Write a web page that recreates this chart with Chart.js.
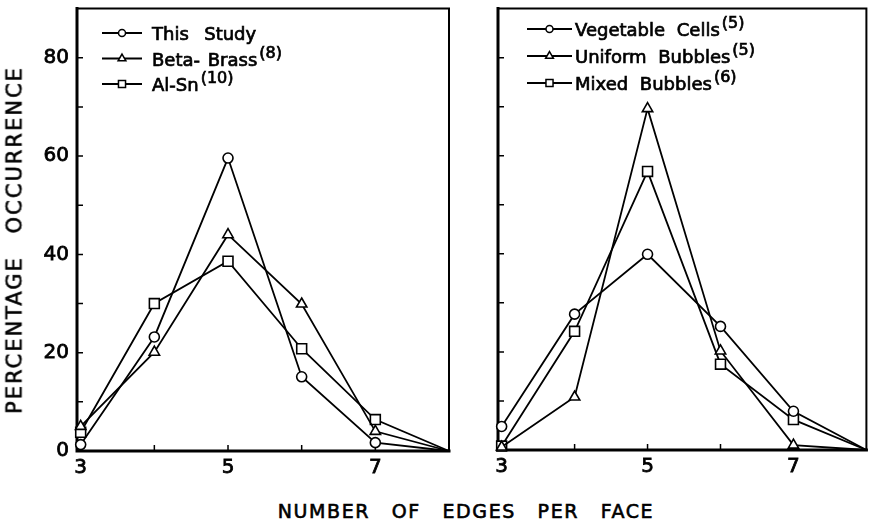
<!DOCTYPE html>
<html>
<head>
<meta charset="utf-8">
<script src="https://cdn.jsdelivr.net/npm/chart.js@4.4.1/dist/chart.umd.min.js"></script>
<style>
  html, body { margin: 0; padding: 0; background: #fff; }
  body { width: 875px; height: 525px; position: relative; overflow: hidden;
         font-family: 'DejaVu Sans', sans-serif; color: #000; }
  canvas { position: absolute; top: 0; }
  #left { left: 0; }
  #right { left: 460px; }
  .title { position: absolute; white-space: nowrap; -webkit-text-stroke: 0.6px #000; }
  #xTitle { left: 466px; top: 502px; font-size: 19px; line-height: 19px;
            letter-spacing: 1.6px; word-spacing: 14px; transform: translateX(-50%); }
  #yTitle { left: 15px; top: 240px; font-size: 21px; line-height: 21px;
            letter-spacing: 2px; word-spacing: 14px;
            transform: translate(-50%, -50%) rotate(-90deg); }
</style>
</head>
<body>
<canvas id="left" width="460" height="490"></canvas>
<canvas id="right" width="415" height="490"></canvas>
<div class="title" id="yTitle">PERCENTAGE OCCURRENCE</div>
<div class="title" id="xTitle">NUMBER OF EDGES PER FACE</div>
<script>
// Number of edges per face (x) and percentage occurrence of each count.
const EDGES = [3, 4, 5, 6, 7, 8];

const THIS_STUDY      = [1.3, 23.2, 59.6, 15.1, 1.7, 0];
const BETA_BRASS      = [5.0, 20.1, 44.0, 29.9, 4.0, 0];
const AL_SN           = [3.8, 30.0, 38.6, 20.8, 6.4, 0];

const VEGETABLE_CELLS = [4.8, 27.7, 39.9, 25.2, 7.9, 0];
const UNIFORM_BUBBLES = [0.6, 10.8, 69.6, 20.2, 1.0, 0];
const MIXED_BUBBLES   = [0.8, 24.2, 56.8, 17.5, 6.2, 0];

const Y_LABELS = [0, 20, 40, 60, 80];              // labelled y ticks (left panel)
const Y_MARKS  = [10, 20, 30, 40, 50, 60, 70, 80]; // inward tick marks
const X_LABELS = [3, 5, 7];                        // labelled x ticks
const X_MARKS  = [4, 5, 6, 7];                     // inward tick marks

const FONT = "'DejaVu Sans', sans-serif";

// Open markers on straight black lines; the closing point at 8 has no marker.
function series(label, ref, values, style, radius, keyRadius) {
  return {
    label, ref, keyRadius,
    data: EDGES.map((e, i) => ({ x: e, y: values[i] })),
    borderColor: '#000',
    borderWidth: 1.8,
    tension: 0,
    pointStyle: style,
    pointRadius: c => (c.dataIndex === EDGES.length - 1 ? 0 : radius),
    pointBorderWidth: 1.6,
    pointBorderColor: '#000',
    pointBackgroundColor: '#fff',
    clip: false
  };
}

// Box round the plot: heavy left/bottom axes, lighter top/right, inward ticks.
const framePlugin = {
  id: 'frame',
  beforeDatasetsDraw(chart) {
    const { ctx, chartArea: a, scales: { x, y } } = chart;
    ctx.save();
    ctx.strokeStyle = '#000';
    ctx.lineCap = 'square';
    ctx.lineWidth = 2;
    ctx.beginPath();
    ctx.moveTo(a.left, a.top); ctx.lineTo(a.right, a.top); ctx.lineTo(a.right, a.bottom);
    ctx.stroke();
    ctx.lineWidth = 3;
    ctx.beginPath();
    ctx.moveTo(a.left, a.top); ctx.lineTo(a.left, a.bottom); ctx.lineTo(a.right, a.bottom);
    ctx.stroke();
    ctx.lineWidth = 1.5;
    ctx.lineCap = 'butt';
    ctx.beginPath();
    Y_MARKS.forEach(v => { const py = y.getPixelForValue(v); ctx.moveTo(a.left, py); ctx.lineTo(a.left + 6, py); });
    X_MARKS.forEach(v => { const px = x.getPixelForValue(v); ctx.moveTo(px, a.bottom); ctx.lineTo(px, a.bottom - 6); });
    ctx.stroke();
    ctx.restore();
  }
};

// Key in the upper-left corner: line sample with marker, name, raised reference.
const keyPlugin = {
  id: 'key',
  afterDraw(chart, args, o) {
    const ctx = chart.ctx;
    ctx.save();
    chart.data.datasets.forEach((ds, i) => {
      const base = o.y0 + i * o.step;
      const ly = base - 7;
      ctx.strokeStyle = '#000';
      ctx.lineWidth = 1.8;
      ctx.beginPath(); ctx.moveTo(o.x0, ly); ctx.lineTo(o.x1, ly); ctx.stroke();
      ctx.fillStyle = '#fff';
      ctx.lineWidth = 1.5;
      Chart.helpers.drawPoint(ctx, { pointStyle: ds.pointStyle, radius: ds.keyRadius, borderWidth: 1.5, rotation: 0 },
        (o.x0 + o.x1) / 2, ly);
      ctx.fillStyle = '#000';
      ctx.strokeStyle = '#000';
      ctx.lineWidth = 0.7;
      ctx.textBaseline = 'alphabetic';
      ctx.textAlign = 'left';
      ctx.font = '18px ' + FONT;
      ctx.wordSpacing = o.gap + 'px';
      ctx.fillText(ds.label, o.tx, base);
      ctx.strokeText(ds.label, o.tx, base);
      const w = ctx.measureText(ds.label).width;
      if (ds.ref) {
        ctx.wordSpacing = '0px';
        ctx.font = '16px ' + FONT;
        ctx.fillText(ds.ref, o.tx + w + 2, base - 8);
        ctx.strokeText(ds.ref, o.tx + w + 2, base - 8);
      }
    });
    ctx.restore();
  }
};

// Scales take exactly the room given to them, with no extra label padding.
function fixSize(s, prop, size) {
  s[prop] = size;
  s.paddingTop = 0; s.paddingBottom = 0; s.paddingLeft = 0; s.paddingRight = 0;
}

function makeChart(id, datasets, geo, showY, key) {
  return new Chart(document.getElementById(id), {
    type: 'line',
    data: { datasets },
    plugins: [framePlugin, keyPlugin],
    options: {
      responsive: false,
      animation: false,
      events: [],
      layout: { padding: geo.padding },
      plugins: { legend: { display: false }, tooltip: { enabled: false }, key },
      scales: {
        x: {
          type: 'linear', min: 2.95, max: 8,
          grid: { display: false, drawTicks: false },
          border: { display: false },
          afterBuildTicks: s => { s.ticks = X_LABELS.map(v => ({ value: v })); },
          afterFit: s => fixSize(s, 'height', geo.xHeight),
          ticks: { padding: 5, color: '#000', font: { family: FONT, size: 20 },
                   textStrokeColor: '#000', textStrokeWidth: 0.8, maxRotation: 0 }
        },
        y: {
          type: 'linear', min: 0, max: 90,
          grid: { display: false, drawTicks: false },
          border: { display: false },
          afterBuildTicks: s => { s.ticks = Y_LABELS.map(v => ({ value: v })); },
          afterFit: s => fixSize(s, 'width', geo.yWidth),
          ticks: { display: showY, padding: 8, color: '#000', font: { family: FONT, size: 20 },
                   textStrokeColor: '#000', textStrokeWidth: 0.8 }
        }
      }
    }
  });
}

makeChart('left', [
  series('This  Study', '', THIS_STUDY, 'circle', 5, 3.5),
  series('Beta- Brass', '(8)', BETA_BRASS, 'triangle', 6, 4.5),
  series('Al-Sn', '(10)', AL_SN, 'rect', 7, 5)
], { padding: { left: 0, right: 11, top: 6, bottom: 0 }, yWidth: 77, xHeight: 39 }, true,
   { x0: 102, x1: 142, tx: 152, y0: 40, step: 25.5, gap: 2 });

makeChart('right', [
  series('Vegetable Cells', '(5)', VEGETABLE_CELLS, 'circle', 5, 3.5),
  series('Uniform Bubbles', '(5)', UNIFORM_BUBBLES, 'triangle', 6, 4.5),
  series('Mixed Bubbles', '(6)', MIXED_BUBBLES, 'rect', 7, 5)
], { padding: { left: 0, right: 5, top: 8, bottom: 0 }, yWidth: 38, xHeight: 40 }, false,
   { x0: 67, x1: 112, tx: 115, y0: 36, step: 27, gap: 6 });
</script>
</body>
</html>
